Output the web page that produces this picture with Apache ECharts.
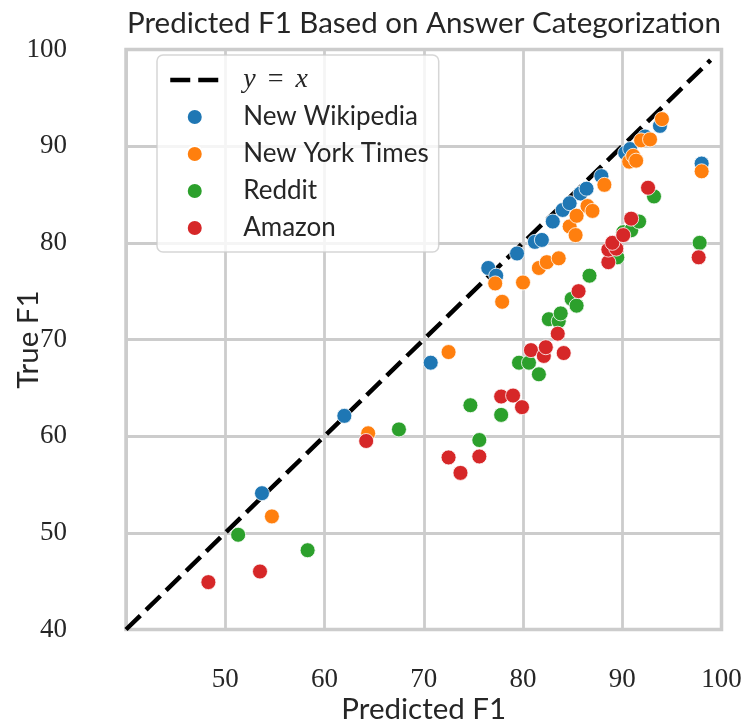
<!DOCTYPE html>
<html>
<head>
<meta charset="utf-8">
<script src="https://cdn.jsdelivr.net/npm/echarts@6/dist/echarts.min.js"></script>
<style>
  html, body { margin: 0; padding: 0; background: #ffffff; }
  #chart { width: 742px; height: 721px; }
</style>
</head>
<body>
<div id="chart"></div>
<script>
// Predicted vs. true F1 per answer category, one series per domain.
const seriesNames = ['New Wikipedia', 'New York Times', 'Reddit', 'Amazon'];
const seriesColors = ['#1f77b4', '#ff7f0e', '#2ca02c', '#d62728'];

// [predicted F1, true F1]
const wikipedia = [
  [53.7, 54.1], [62.0, 62.1], [70.7, 67.6], [76.5, 77.4], [77.3, 76.6],
  [79.4, 78.9], [81.2, 80.1], [81.9, 80.3], [83.0, 82.2], [84.0, 83.4],
  [84.7, 84.1], [85.8, 85.1], [86.4, 85.6], [87.9, 86.9], [90.3, 89.3],
  [90.8, 89.7], [92.3, 91.0], [93.8, 92.1], [98.0, 88.2]
];
const nyTimes = [
  [54.7, 51.7], [64.4, 60.3], [72.5, 68.7], [77.2, 75.8], [77.9, 73.9],
  [80.0, 75.9], [81.6, 77.4], [82.4, 78.0], [83.6, 78.4], [84.7, 81.7],
  [85.3, 80.8], [85.4, 82.8], [86.5, 83.8], [87.0, 83.3], [88.2, 86.0],
  [90.7, 88.4], [91.1, 89.0], [91.4, 88.5], [91.9, 90.6], [92.8, 90.7],
  [94.0, 92.8], [98.0, 87.4]
];
const reddit = [
  [51.3, 49.8], [58.3, 48.2], [67.5, 60.7], [74.7, 63.2], [75.6, 59.6],
  [77.8, 62.2], [79.6, 67.6], [80.6, 67.6], [81.6, 66.4], [82.6, 72.1],
  [83.6, 71.9], [83.8, 72.7], [84.9, 74.2], [85.4, 73.5], [86.7, 76.6],
  [89.5, 78.5], [90.1, 81.1], [90.9, 81.3], [91.7, 82.2], [93.2, 84.8],
  [97.8, 80.0]
];
const amazon = [
  [48.3, 44.9], [53.5, 46.0], [64.2, 59.5], [72.5, 57.8], [73.7, 56.2],
  [75.6, 57.9], [77.8, 64.1], [79.0, 64.2], [79.9, 63.0], [80.8, 68.9],
  [82.1, 68.3], [82.3, 69.2], [83.5, 70.6], [84.1, 68.6], [85.6, 75.0],
  [88.6, 78.0], [88.6, 79.3], [89.4, 79.4], [89.0, 80.0], [90.1, 80.8],
  [90.9, 82.5], [92.6, 85.7], [97.7, 78.5]
];

// Reference diagonal y = x
const diagonalName = 'y = x';
const diagonalEnds = [40, 98.9];

const axisTicks = [40, 50, 60, 70, 80, 90, 100];

const textDark = '#262626';
const gridGray = '#cccccc';
const sansFont = 'Lato, "Open Sans", sans-serif';
const serifFont = '"Liberation Serif", "DejaVu Serif", serif';
const diagonalStyle = { color: '#000000', width: 4.5, type: [20, 8], cap: 'butt' };

const chart = echarts.init(document.getElementById('chart'), null, { renderer: 'canvas' });

const scatterSeries = [wikipedia, nyTimes, reddit, amazon].map((pts, i) => ({
  name: seriesNames[i],
  type: 'scatter',
  data: pts,
  symbol: 'circle',
  symbolSize: 15,
  itemStyle: { color: seriesColors[i], borderColor: '#ffffff', borderWidth: 0.8, opacity: 1 },
  z: 3 + i
}));

chart.setOption({
  animation: false,
  backgroundColor: '#ffffff',
  title: {
    text: 'Predicted F1 Based on Answer Categorization',
    left: 419,
    top: 3,
    textAlign: 'center',
    textStyle: { fontFamily: sansFont, fontSize: 29.5, fontWeight: 'normal', color: textDark }
  },
  grid: {
    left: 126, right: 20.5, top: 49.5, bottom: 91.5,
    outerBoundsMode: 'none',
    containLabel: false,
    show: true, borderColor: gridGray, borderWidth: 3.5, backgroundColor: 'transparent'
  },
  legend: {
    left: 157, top: 55,
    orient: 'vertical',
    padding: [11, 10, 10, 11],
    itemGap: 9,
    itemWidth: 49,
    itemHeight: 16,
    backgroundColor: 'rgba(255,255,255,0.8)',
    borderColor: 'rgba(204,204,204,0.8)',
    borderWidth: 1.5,
    borderRadius: 6,
    textStyle: {
      fontFamily: sansFont, fontSize: 26, color: textDark, padding: [0, 0, 0, 19], lineHeight: 28,
      rich: {
        m: { fontFamily: serifFont, fontStyle: 'italic', fontSize: 28, color: textDark, lineHeight: 28 },
        e: { fontFamily: serifFont, fontSize: 28, color: textDark, lineHeight: 28, padding: [0, 12, 0, 12] }
      }
    },
    formatter: name => name === diagonalName ? '{m|y}{e|=}{m|x}' : name,
    data: [
      {
        name: diagonalName,
        itemStyle: { color: 'rgba(0,0,0,0)', borderColor: 'rgba(0,0,0,0)', opacity: 0 },
        lineStyle: diagonalStyle
      }
    ].concat(seriesNames)
  },
  xAxis: {
    type: 'value', min: axisTicks[0], max: axisTicks[axisTicks.length - 1], interval: 10,
    name: 'Predicted F1', nameLocation: 'middle', nameGap: 65, nameMoveOverlap: false,
    nameTextStyle: { fontFamily: sansFont, fontSize: 29.5, color: textDark },
    axisLine: { show: false }, axisTick: { show: false },
    axisLabel: { showMinLabel: false, margin: 37, fontFamily: serifFont, fontSize: 27, color: textDark },
    splitLine: { show: true, lineStyle: { color: gridGray, width: 2.8 } }
  },
  yAxis: {
    type: 'value', min: axisTicks[0], max: axisTicks[axisTicks.length - 1], interval: 10,
    name: 'True F1', nameLocation: 'middle', nameGap: 83, nameMoveOverlap: false,
    nameTextStyle: { fontFamily: sansFont, fontSize: 29.5, color: textDark },
    axisLine: { show: false }, axisTick: { show: false },
    axisLabel: { margin: 59, fontFamily: serifFont, fontSize: 27, color: textDark },
    splitLine: { show: true, lineStyle: { color: gridGray, width: 2.8 } }
  },
  series: [{
    name: diagonalName,
    type: 'line',
    data: diagonalEnds.map(v => [v, v]),
    symbol: 'none',
    lineStyle: diagonalStyle,
    itemStyle: { color: '#000000' },
    z: 2
  }].concat(scatterSeries)
});
</script>
</body>
</html>
